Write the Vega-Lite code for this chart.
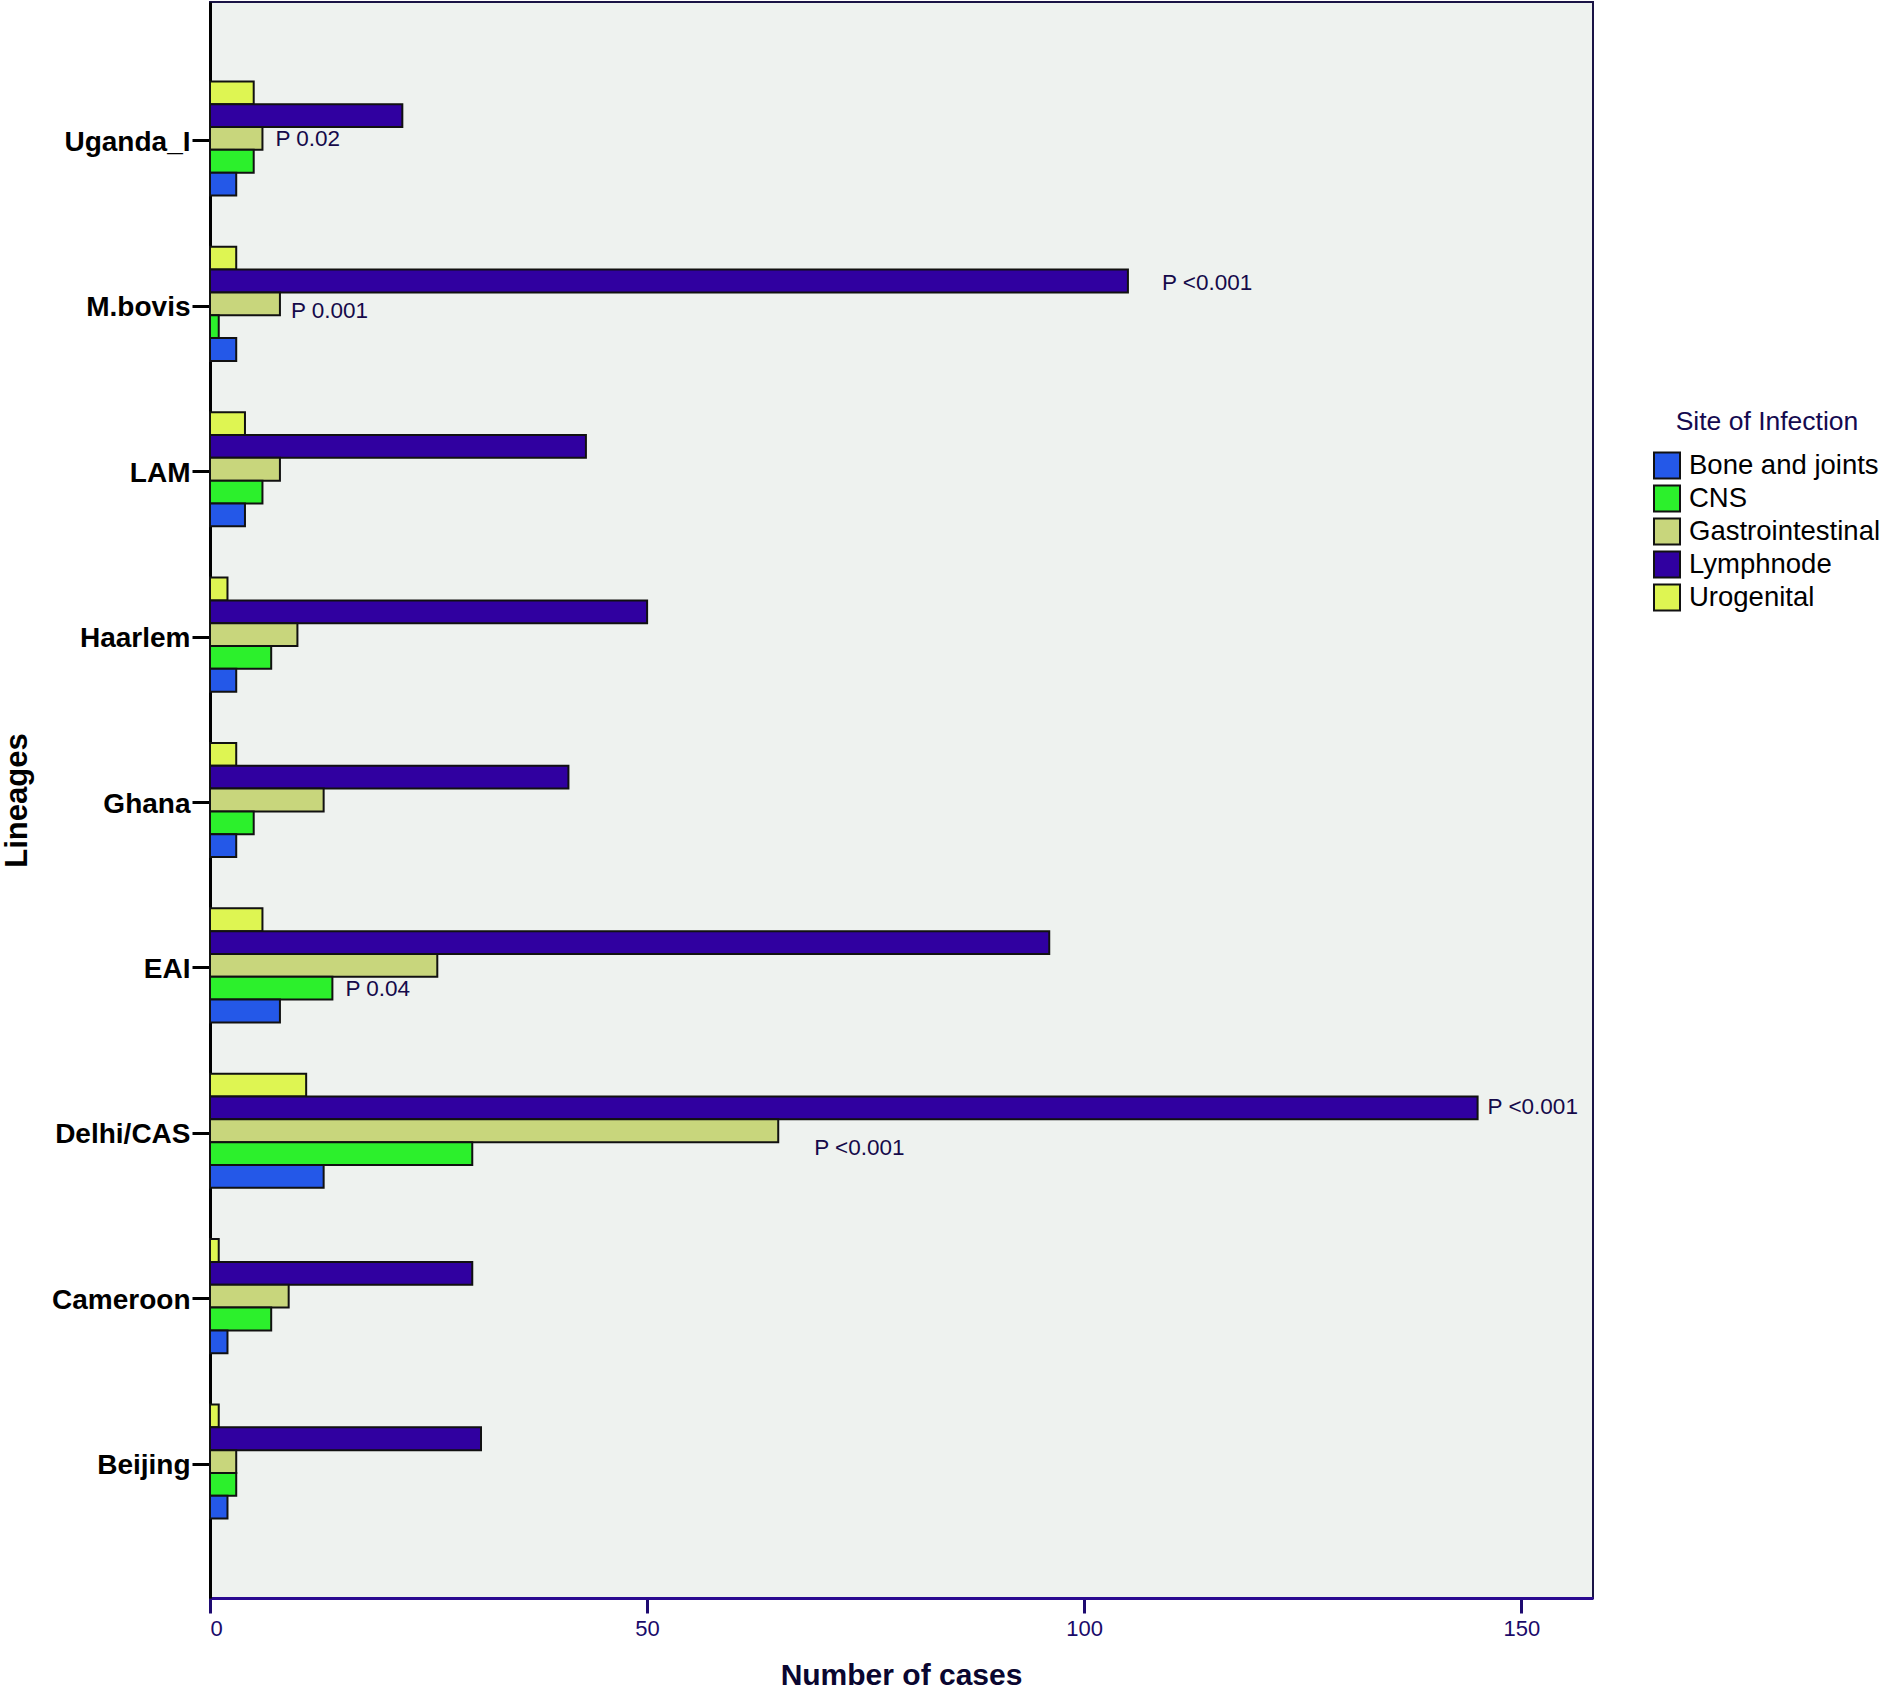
{
  "$schema": "https://vega.github.io/schema/vega-lite/v6.json",
  "width": 1383,
  "height": 1596,
  "autosize": {"type": "none"},
  "padding": {"left": 210, "top": 2, "right": 291, "bottom": 92},
  "background": "white",
  "config": {
    "view": {"fill": "#eef2ef", "stroke": "#1a1446", "strokeWidth": 2},
    "font": "Liberation Sans"
  },
  "data": {
    "values": [
      {"lineage": "Uganda_I", "site": "Urogenital", "count": 5},
      {"lineage": "Uganda_I", "site": "Lymphnode", "count": 22},
      {"lineage": "Uganda_I", "site": "Gastrointestinal", "count": 6, "p": "P 0.02"},
      {"lineage": "Uganda_I", "site": "CNS", "count": 5},
      {"lineage": "Uganda_I", "site": "Bone and joints", "count": 3},
      {"lineage": "M.bovis", "site": "Urogenital", "count": 3},
      {"lineage": "M.bovis", "site": "Lymphnode", "count": 105, "p": "P <0.001"},
      {"lineage": "M.bovis", "site": "Gastrointestinal", "count": 8, "p": "P 0.001"},
      {"lineage": "M.bovis", "site": "CNS", "count": 1},
      {"lineage": "M.bovis", "site": "Bone and joints", "count": 3},
      {"lineage": "LAM", "site": "Urogenital", "count": 4},
      {"lineage": "LAM", "site": "Lymphnode", "count": 43},
      {"lineage": "LAM", "site": "Gastrointestinal", "count": 8},
      {"lineage": "LAM", "site": "CNS", "count": 6},
      {"lineage": "LAM", "site": "Bone and joints", "count": 4},
      {"lineage": "Haarlem", "site": "Urogenital", "count": 2},
      {"lineage": "Haarlem", "site": "Lymphnode", "count": 50},
      {"lineage": "Haarlem", "site": "Gastrointestinal", "count": 10},
      {"lineage": "Haarlem", "site": "CNS", "count": 7},
      {"lineage": "Haarlem", "site": "Bone and joints", "count": 3},
      {"lineage": "Ghana", "site": "Urogenital", "count": 3},
      {"lineage": "Ghana", "site": "Lymphnode", "count": 41},
      {"lineage": "Ghana", "site": "Gastrointestinal", "count": 13},
      {"lineage": "Ghana", "site": "CNS", "count": 5},
      {"lineage": "Ghana", "site": "Bone and joints", "count": 3},
      {"lineage": "EAI", "site": "Urogenital", "count": 6},
      {"lineage": "EAI", "site": "Lymphnode", "count": 96},
      {"lineage": "EAI", "site": "Gastrointestinal", "count": 26},
      {"lineage": "EAI", "site": "CNS", "count": 14, "p": "P 0.04"},
      {"lineage": "EAI", "site": "Bone and joints", "count": 8},
      {"lineage": "Delhi/CAS", "site": "Urogenital", "count": 11},
      {"lineage": "Delhi/CAS", "site": "Lymphnode", "count": 145, "p": "P <0.001"},
      {"lineage": "Delhi/CAS", "site": "Gastrointestinal", "count": 65, "p": "P <0.001"},
      {"lineage": "Delhi/CAS", "site": "CNS", "count": 30},
      {"lineage": "Delhi/CAS", "site": "Bone and joints", "count": 13},
      {"lineage": "Cameroon", "site": "Urogenital", "count": 1},
      {"lineage": "Cameroon", "site": "Lymphnode", "count": 30},
      {"lineage": "Cameroon", "site": "Gastrointestinal", "count": 9},
      {"lineage": "Cameroon", "site": "CNS", "count": 7},
      {"lineage": "Cameroon", "site": "Bone and joints", "count": 2},
      {"lineage": "Beijing", "site": "Urogenital", "count": 1},
      {"lineage": "Beijing", "site": "Lymphnode", "count": 31},
      {"lineage": "Beijing", "site": "Gastrointestinal", "count": 3},
      {"lineage": "Beijing", "site": "CNS", "count": 3},
      {"lineage": "Beijing", "site": "Bone and joints", "count": 2}
    ]
  },
  "encoding": {
    "y": {
      "field": "lineage",
      "type": "nominal",
      "sort": ["Uganda_I", "M.bovis", "LAM", "Haarlem", "Ghana", "EAI", "Delhi/CAS", "Cameroon", "Beijing"],
      "scale": {"paddingInner": 0.31, "paddingOuter": 0.48},
      "axis": {
        "title": "Lineages",
        "titleFontSize": 31,
        "titleFontWeight": "bold",
        "titleColor": "#000000",
        "titleAngle": -90,
        "titleX": -193,
        "titleY": 798,
        "titleAlign": "center",
        "titleBaseline": "middle",
        "labelFontSize": 28,
        "labelFontWeight": "bold",
        "labelColor": "#000000",
        "labelPadding": 2,
        "labelOffset": 2,
        "tickOffset": 2,
        "tickSize": 18,
        "tickWidth": 3,
        "tickColor": "#000000",
        "domainColor": "#000000",
        "domainWidth": 3,
        "grid": false
      }
    },
    "yOffset": {
      "field": "site",
      "type": "nominal",
      "sort": ["Urogenital", "Lymphnode", "Gastrointestinal", "CNS", "Bone and joints"],
      "scale": {"paddingInner": 0, "paddingOuter": 0}
    },
    "x": {
      "field": "count",
      "type": "quantitative",
      "scale": {"domain": [0, 158.2], "nice": false, "zero": true},
      "axis": {
        "title": "Number of cases",
        "values": [0, 50, 100, 150],
        "titleFontSize": 30,
        "titleFontWeight": "bold",
        "titleColor": "#0a0630",
        "titleX": 691,
        "titleY": 77,
        "titleAlign": "center",
        "titleBaseline": "middle",
        "labelFontSize": 22,
        "labelColor": "#1a0a6a",
        "labelPadding": 5,
        "tickSize": 15,
        "tickWidth": 3,
        "tickColor": "#1e0a70",
        "domainColor": "#2a0a90",
        "domainWidth": 3,
        "grid": false
      }
    }
  },
  "layer": [
    {
      "mark": {"type": "bar", "stroke": "#111111", "strokeWidth": 2},
      "encoding": {
        "color": {
          "field": "site",
          "type": "nominal",
          "scale": {
            "domain": ["Bone and joints", "CNS", "Gastrointestinal", "Lymphnode", "Urogenital"],
            "range": ["#2458e8", "#2cf02c", "#c8d67c", "#3000a0", "#def552"]
          },
          "legend": {
            "orient": "none",
            "legendX": 1443,
            "legendY": 407,
            "title": "Site of Infection",
            "titleFontSize": 26.5,
            "titleFontWeight": "normal",
            "titleColor": "#140a50",
            "titleAnchor": "middle",
            "titleLimit": 400,
            "titlePadding": 16,
            "labelFontSize": 27.5,
            "labelColor": "#000000",
            "labelLimit": 400,
            "labelOffset": 8,
            "symbolType": "square",
            "symbolSize": 676,
            "symbolStrokeColor": "#111111",
            "symbolStrokeWidth": 2,
            "symbolOpacity": 1,
            "rowPadding": -1,
            "padding": 0
          }
        }
      }
    },
    {
      "transform": [{"filter": "(datum.lineage == 'Uganda_I' && datum.site == 'Gastrointestinal') || (datum.lineage == 'EAI' && datum.site == 'CNS')"}],
      "mark": {"type": "text", "align": "left", "baseline": "middle", "dx": 13, "dy": 1, "fontSize": 22.5, "color": "#150a4a"},
      "encoding": {"text": {"field": "p"}}
    },
    {
      "transform": [{"filter": "datum.lineage == 'M.bovis' && datum.site == 'Gastrointestinal'"}],
      "mark": {"type": "text", "align": "left", "baseline": "middle", "dx": 11, "dy": 7, "fontSize": 22.5, "color": "#150a4a"},
      "encoding": {"text": {"field": "p"}}
    },
    {
      "transform": [{"filter": "datum.lineage == 'M.bovis' && datum.site == 'Lymphnode'"}],
      "mark": {"type": "text", "align": "left", "baseline": "middle", "dx": 34, "dy": 2, "fontSize": 22.5, "color": "#150a4a"},
      "encoding": {"text": {"field": "p"}}
    },
    {
      "transform": [{"filter": "datum.lineage == 'Delhi/CAS' && datum.site == 'Lymphnode'"}],
      "mark": {"type": "text", "align": "left", "baseline": "middle", "dx": 10, "dy": -1, "fontSize": 22.5, "color": "#150a4a"},
      "encoding": {"text": {"field": "p"}}
    },
    {
      "transform": [{"filter": "datum.lineage == 'Delhi/CAS' && datum.site == 'Gastrointestinal'"}],
      "mark": {"type": "text", "align": "left", "baseline": "middle", "dx": 36, "dy": 17, "fontSize": 22.5, "color": "#150a4a"},
      "encoding": {"text": {"field": "p"}}
    }
  ]
}
